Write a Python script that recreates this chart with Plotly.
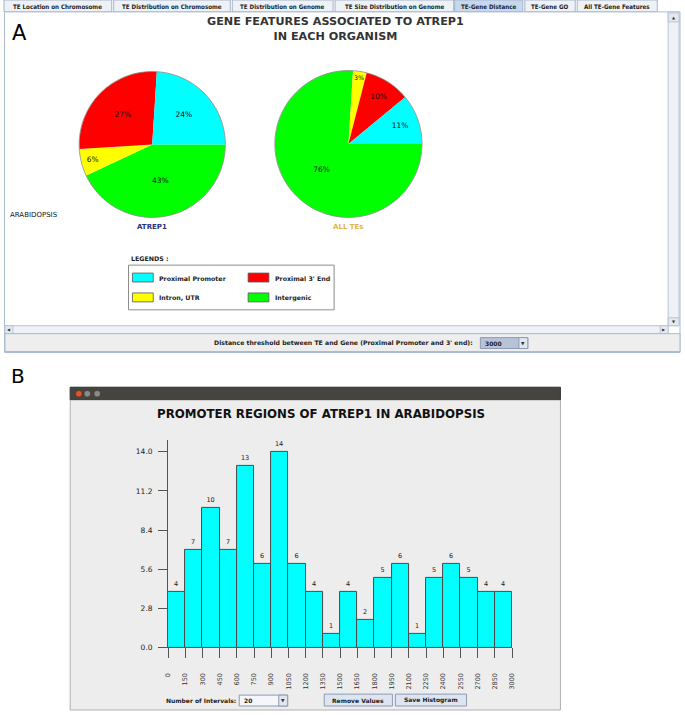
import plotly.graph_objects as go

W, H = 685, 715

# ---------------- data ----------------
feature_labels = ["Proximal Promoter", "Proximal 3' End", "Intron, UTR", "Intergenic"]
feature_colors = ["#00ffff", "#ff0000", "#ffff00", "#00ff00"]
atrep1_pct = [24, 27, 6, 43]
all_tes_pct = [11, 10, 3, 76]

bin_edges = [0, 150, 300, 450, 600, 750, 900, 1050, 1200, 1350, 1500,
             1650, 1800, 1950, 2100, 2250, 2400, 2550, 2700, 2850, 3000]
bin_counts = [4, 7, 10, 7, 13, 6, 14, 6, 4, 1, 4, 2, 5, 6, 1, 5, 6, 5, 4, 4]
y_ticks = [0.0, 2.8, 5.6, 8.4, 11.2, 14.0]
y_tick_text = ["0.0", "2.8", "5.6", "8.4", "11.2", "14.0"]

tab_names = ["TE Location on Chromosome", "TE Distribution on Chromosome",
             "TE Distribution on Genome", "TE Size Distribution on Genome",
             "TE-Gene Distance", "TE-Gene GO", "All TE-Gene Features"]
selected_tab = "TE-Gene Distance"


def px(x):
    return x / W


def py(y):
    return 1 - y / H


FONT = "DejaVu Sans"
shapes = []
ann = []


def rect(x0, y0, x1, y1, fill, line="rgba(0,0,0,0)", lw=1, layer="below"):
    shapes.append(dict(type="rect", xref="paper", yref="paper",
                       x0=px(x0), x1=px(x1), y0=py(y1), y1=py(y0),
                       fillcolor=fill, line=dict(color=line, width=lw), layer=layer))


def text(x, y, s, size=7, color="#222", bold=False, xanchor="center", yanchor="middle", family=FONT, angle=0):
    ann.append(dict(xref="paper", yref="paper", x=px(x), y=py(y), text=("<b>%s</b>" % s) if bold else s,
                    showarrow=False, xanchor=xanchor, yanchor=yanchor, textangle=angle,
                    font=dict(family=family, size=size, color=color)))


# ---------------- panel A chrome ----------------
tab_x = [(0, 109), (111, 229), (231, 333), (335, 455), (456, 525), (527, 578), (580, 661)]
for (x0, x1), name in zip(tab_x, tab_names):
    sel = name == selected_tab
    rect(x0, 0, x1, 12, "#c6d8ef" if sel else "#eef1f6", "#a7b5c9", 1)
    text((x0 + x1) / 2, 6.5, name, size=6.2, color="#222", bold=True, family="DejaVu Sans Condensed")

rect(0.5, 12, 684, 355, "#ffffff", "#a9bbd3", 1)
# vertical scrollbar
rect(672, 12, 683, 328, "#eef1f5", "#b8c4d4", 1)
rect(672, 13, 683, 22, "#e4e9f0", "#b8c4d4", 1)
rect(672, 320, 683, 328, "#e4e9f0", "#b8c4d4", 1)
text(677.5, 17.5, "▲", size=4, color="#333")
text(677.5, 324, "▼", size=4, color="#333")
# horizontal scrollbar
rect(1, 328, 672, 336, "#eef1f5", "#b8c4d4", 1)
rect(1, 328, 9, 336, "#e4e9f0", "#b8c4d4", 1)
rect(664, 328, 672, 336, "#e4e9f0", "#b8c4d4", 1)
text(5, 332, "◀", size=4, color="#333")
text(668, 332, "▶", size=4, color="#333")
# bottom control bar
rect(1, 336, 684, 354, "#eeeeee", "#a9bbd3", 1)
text(477, 345, "Distance threshold between TE and Gene (Proximal Promoter and 3' end):", size=6.2,
     color="#222", bold=True, xanchor="right")
rect(482, 340, 530, 351, "#b7c3d7", "#8d9bb2", 1)
rect(521, 340, 530, 351, "#dfe6ef", "#8d9bb2", 1)
text(485, 345.5, "3000", size=6, color="#222", bold=True, xanchor="left")
text(525.5, 345.5, "▼", size=4.5, color="#333")

text(6, 33, "A", size=21, color="#000", xanchor="left")
text(335, 29.5, "GENE FEATURES ASSOCIATED TO ATREP1<br>IN EACH ORGANISM", size=11.2, color="#333", bold=True)
text(4, 217, "ARABIDOPSIS", size=7, color="#111", xanchor="left")

# pies
pie1_box = (76, 72, 224, 219)
pie2_box = (274, 71, 423, 219)
text((pie1_box[0] + pie1_box[2]) / 2, 229, "ATREP1", size=7, color="#2b2f7e", bold=True)
text((pie2_box[0] + pie2_box[2]) / 2, 229, "ALL TEs", size=7, color="#e3b346", bold=True)
for b in (pie1_box, pie2_box):
    shapes.append(dict(type="circle", xref="paper", yref="paper", x0=px(b[0]), x1=px(b[2]),
                       y0=py(b[3]), y1=py(b[1]), line=dict(color="#8a8a8a", width=0.8), layer="above"))

# legend (manual)
text(126, 260, "LEGENDS :", size=6.3, color="#222", bold=True, xanchor="left")
rect(126, 267, 334, 312, "#ffffff", "#8c8c8c", 1)
leg_pos = [(130, 275), (247, 275), (130, 295), (247, 295)]
for (lx, ly), lab, col in zip(leg_pos, feature_labels, feature_colors):
    rect(lx, ly, lx + 21, ly + 9, col, "#555555", 0.8, layer="above")
    text(lx + 25, ly + 5, lab, size=6.3, color="#222", bold=True, xanchor="left")

# ---------------- panel B chrome ----------------
text(5, 379, "B", size=20, color="#000", xanchor="left")
rect(67, 390, 563, 715, "#ededed", "#b0b0b0", 1)
rect(67, 390, 563, 402.5, "#45443f", "#3a3935", 1)
for cx, col in [(75.7, "#e2542a"), (84.3, "#8c8b87"), (94.3, "#8c8b87")]:
    shapes.append(dict(type="circle", xref="paper", yref="paper", x0=px(cx - 3.3), x1=px(cx + 3.3),
                       y0=py(396.5 + 3.3), y1=py(396.5 - 3.3), fillcolor=col,
                       line=dict(color="#2e2d2a", width=0.5), layer="below"))
text(321, 417, "PROMOTER REGIONS OF ATREP1 IN ARABIDOPSIS", size=11.8, color="#111", bold=True)

text(162, 705, "Number of Intervals:", size=6, color="#222", bold=True, xanchor="left")
rect(238, 700, 287, 711, "#f4f6f9", "#8d9bb2", 1)
rect(278, 700, 287, 711, "#dfe6ef", "#8d9bb2", 1)
text(241, 705.5, "20", size=6, color="#222", bold=True, xanchor="left")
text(282.5, 705.5, "▼", size=4.5, color="#333")
rect(324, 699, 393, 711, "#dce5f1", "#8d9bb2", 1)
text(358.5, 705, "Remove Values", size=6, color="#222", bold=True)
rect(396, 699, 468, 711, "#dce5f1", "#8d9bb2", 1)
text(432, 705, "Save Histogram", size=6, color="#222", bold=True)

# ---------------- traces ----------------
fig = go.Figure()
# slices run counter-clockwise from 3 o'clock: draw clockwise from 3 o'clock in reverse order
for vals, b in ((atrep1_pct, pie1_box), (all_tes_pct, pie2_box)):
    fig.add_trace(go.Pie(
        labels=feature_labels[::-1], values=vals[::-1], sort=False, direction="clockwise", rotation=90,
        marker=dict(colors=feature_colors[::-1], line=dict(width=0)),
        texttemplate="%{value}%", textposition="inside", insidetextorientation="horizontal",
        textfont=dict(family=FONT, size=7.5, color="#111"),
        domain=dict(x=[px(b[0]), px(b[2])], y=[py(b[3]), py(b[1])]),
        showlegend=False, hoverinfo="label+percent"))

bar_x = [(a + b) / 2 for a, b in zip(bin_edges[:-1], bin_edges[1:])]
bar_w = [b - a for a, b in zip(bin_edges[:-1], bin_edges[1:])]
fig.add_trace(go.Bar(
    x=bar_x, y=bin_counts, width=bar_w,
    marker=dict(color="#00ffff", line=dict(color="#4a4a4a", width=1)),
    text=[str(v) for v in bin_counts], textposition="outside", cliponaxis=False,
    textfont=dict(family=FONT, size=6.5, color="#222"),
    showlegend=False))

fig.update_layout(
    width=W, height=H, autosize=False,
    margin=dict(l=0, r=0, t=0, b=0, pad=0),
    paper_bgcolor="#ffffff", plot_bgcolor="rgba(0,0,0,0)",
    shapes=shapes, annotations=ann, bargap=0,
    xaxis=dict(domain=[px(166), px(514)], range=[0, 3000],
               tickvals=bin_edges, ticktext=[str(e) for e in bin_edges], tickangle=-90,
               ticks="outside", ticklen=10, tickcolor="#555", tickwidth=1,
               showline=True, linecolor="#555", linewidth=1, showgrid=False, zeroline=False,
               ticklabelstandoff=12,
               tickfont=dict(family=FONT, size=6.5, color="#333")),
    yaxis=dict(domain=[py(652), py(443)], range=[0, 14.85],
               tickvals=y_ticks, ticktext=y_tick_text,
               ticks="outside", ticklen=9, tickcolor="#555", tickwidth=1,
               showline=True, linecolor="#555", linewidth=1, showgrid=False, zeroline=False,
               ticklabelstandoff=4,
               tickfont=dict(family=FONT, size=7.5, color="#222")),
    font=dict(family=FONT),
)

fig.write_html(
    "out.html", config={"displayModeBar": False},
    post_script=("document.documentElement.style.margin='0px';"
                 "document.body.style.margin='0px';"
                 "document.body.style.padding='0px';"
                 "document.documentElement.style.overflow='hidden';"
                 "document.body.style.overflow='hidden';"))
